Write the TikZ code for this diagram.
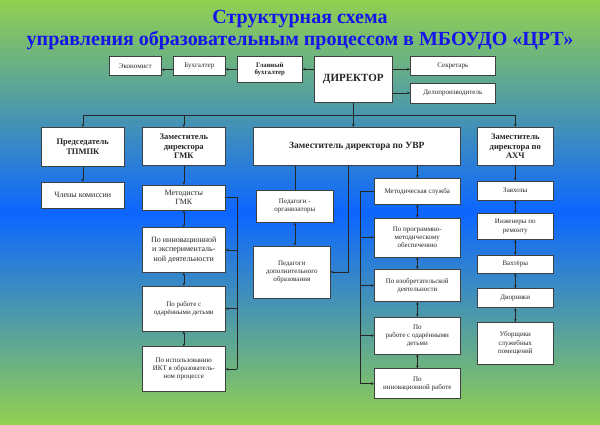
\documentclass[tikz,border=0pt]{standalone}
\usepackage{fontspec}
\setmainfont{Liberation Serif}
\usepackage{xcolor}
\usepackage{tikz}
\usetikzlibrary{arrows.meta,positioning,calc}

\definecolor{bggreen}{RGB}{146,208,80}
\definecolor{bgblue}{RGB}{12,102,255}
\definecolor{titleblue}{RGB}{20,20,235}

\begin{document}
\begin{tikzpicture}[
  >={Stealth[length=3pt,width=2.6pt]},
  x=1pt, y=1pt,
  every node/.style={inner sep=1pt},
  unit/.style={draw=black!75, fill=white, line width=0.6pt, align=center,
    font=\fontsize{7}{8.2}\selectfont, text=black!85},
  head/.style={unit, font=\fontsize{8.5}{9.6}\selectfont\bfseries},
  link/.style={->, line width=0.6pt, draw=black!85},
  pair/.style={<->, line width=0.6pt, draw=black!85},
  wire/.style={line width=0.6pt, draw=black!85},
]
\useasboundingbox (0,0) rectangle (600,-425);
\shade[top color=bggreen, bottom color=bggreen, middle color=bgblue] (0,0) rectangle (600,-425);

\node[font=\fontsize{20}{22}\selectfont\bfseries, text=titleblue, align=center] (title) at (300,-30.5)
  {Структурная схема\\управления образовательным процессом в МБОУДО «ЦРТ»};

\node[unit, anchor=north west, minimum width=52pt, minimum height=19pt] (ekon) at (109,-56) {Экономист};
\node[unit, anchor=north west, minimum width=52pt, minimum height=19pt] (buh) at (173,-56) {Бухгалтер};
\node[unit, anchor=north west, minimum width=65pt, minimum height=26pt,
  font=\fontsize{6.8}{7.8}\selectfont\bfseries] (glbuh) at (237,-56) {Главный\\бухгалтер};
\node[unit, anchor=north west, minimum width=78pt, minimum height=46pt,
  font=\fontsize{11}{13}\selectfont\bfseries] (dir) at (314,-56) {ДИРЕКТОР};
\node[unit, anchor=north west, minimum width=85pt, minimum height=19pt] (sekr) at (410,-56) {Секретарь};
\node[unit, below=7pt of sekr, minimum width=85pt, minimum height=20pt] (delo) {Делопроизводитель};

\node[head, anchor=north west, minimum width=83pt, minimum height=39pt] (pred) at (41,-127) {Председатель\\ТПМПК};
\node[head, anchor=north west, minimum width=83pt, minimum height=38pt] (zgmk) at (142,-127) {Заместитель\\директора\\ГМК};
\node[head, anchor=north west, minimum width=207pt, minimum height=38pt,
  font=\fontsize{9.5}{11}\selectfont\bfseries] (uvr) at (253,-127) {Заместитель директора по УВР};
\node[head, anchor=north west, minimum width=76pt, minimum height=38pt] (ahch) at (477,-127) {Заместитель\\директора по\\АХЧ};

\node[unit, below=15pt of pred, minimum width=83pt, minimum height=26pt, font=\fontsize{8}{9}\selectfont] (chleny) {Члены комиссии};

\node[unit, below=19pt of zgmk, minimum width=83pt, minimum height=25pt, font=\fontsize{8}{9}\selectfont] (metod) {Методисты\\ГМК};
\node[unit, below=17pt of metod, minimum width=83pt, minimum height=45pt, font=\fontsize{8}{9.5}\selectfont] (innov) {По инновационной\\и эксперименталь-\\ной деятельности};
\node[unit, below=13pt of innov, minimum width=83pt, minimum height=45pt] (odar) {По работе с\\одарёнными детьми};
\node[unit, below=15pt of odar, minimum width=83pt, minimum height=45pt] (ikt) {По использованию\\ИКТ в образователь-\\ном процессе};

\node[unit, anchor=north west, minimum width=77pt, minimum height=32pt] (porg) at (256,-190) {Педагоги -\\организаторы};
\node[unit, below=23pt of porg, xshift=-3pt, minimum width=77pt, minimum height=52pt] (pdop) {Педагоги\\дополнительного\\образования};

\node[unit, anchor=north west, minimum width=86pt, minimum height=26pt] (msl) at (374,-178) {Методическая служба};
\node[unit, below=13pt of msl, minimum width=86pt, minimum height=39pt] (prog) {По программно-\\методическому\\обеспечению};
\node[unit, below=12pt of prog, minimum width=86pt, minimum height=32pt] (izobr) {По изобретательской\\деятельности};
\node[unit, below=15pt of izobr, minimum width=86pt, minimum height=37pt] (odarr) {По\\работе с одарёнными\\детьми};
\node[unit, below=14pt of odarr, minimum width=86pt, minimum height=30pt] (innr) {По\\инновационной работе};

\node[unit, below=15pt of ahch, minimum width=76pt, minimum height=19pt] (zavh) {Завхозы};
\node[unit, below=13pt of zavh, minimum width=76pt, minimum height=26pt] (inzh) {Инженеры по\\ремонту};
\node[unit, below=15pt of inzh, minimum width=76pt, minimum height=18pt] (vaht) {Вахтёры};
\node[unit, below=15pt of vaht, minimum width=76pt, minimum height=19pt] (dvor) {Дворники};
\node[unit, below=14pt of dvor, minimum width=76pt, minimum height=42pt] (ubor) {Уборщики\\служебных\\помещений};

\draw[link] (dir.west |- glbuh) -- (glbuh.east);
\draw[link] (glbuh.west) -- (glbuh.west -| buh.east);
\draw[link] ([yshift=-4pt]buh.west) -- ([yshift=-4pt]buh.west -| ekon.east);
\draw[link] (dir.east |- glbuh) -- (sekr.west |- glbuh);
\draw[link] (dir.east |- delo) -- (delo.west);

\coordinate (bus) at (0,-115);
\draw[wire] (dir.south) -- (dir.south |- bus);
\draw[wire] (pred.north |- bus) -- (ahch.north |- bus);
\draw[link] (pred.north |- bus) -- (pred.north);
\draw[link] (zgmk.north |- bus) -- (zgmk.north);
\draw[link] (dir.south |- bus) -- (dir.south |- uvr.north);
\draw[link] (ahch.north |- bus) -- (ahch.north);

\draw[link] (pred) -- (chleny);

\draw[link] (zgmk) -- (metod);
\draw[pair] (metod) -- (innov);
\draw[pair] (innov) -- (odar);
\draw[pair] (odar) -- (ikt);
\coordinate (gmkrail) at (237,0);
\draw[wire] (metod.east) -| (gmkrail |- ikt);
\draw[link] (gmkrail |- innov) -- (innov.east);
\draw[link] (gmkrail |- odar) -- (odar.east);
\draw[link] (gmkrail |- ikt) -- (ikt.east);

\draw[wire] (uvr.south -| porg) -- (porg.north);
\draw[pair] (porg.south) -- (porg.south |- pdop.north);
\coordinate (uvrrail) at (348,0);
\draw[link] (uvr.south -| uvrrail) |- (pdop.east);

\draw[link] (uvr.south -| msl) -- (msl.north);
\draw[pair] (msl) -- (prog);
\draw[pair] (prog) -- (izobr);
\draw[pair] (izobr) -- (odarr);
\draw[pair] (odarr) -- (innr);
\coordinate (metrail) at (360,0);
\draw[wire] (msl.west) -| (metrail |- innr);
\draw[link] (metrail |- prog) -- (prog.west);
\draw[link] (metrail |- izobr) -- (izobr.west);
\draw[link] (metrail |- odarr) -- (odarr.west);
\draw[link] (metrail |- innr) -- (innr.west);

\draw[link] (ahch) -- (zavh);
\draw[pair] (zavh) -- (inzh);
\draw[pair] (inzh) -- (vaht);
\draw[pair] (vaht) -- (dvor);
\draw[pair] (dvor) -- (ubor);
\end{tikzpicture}
\end{document}
